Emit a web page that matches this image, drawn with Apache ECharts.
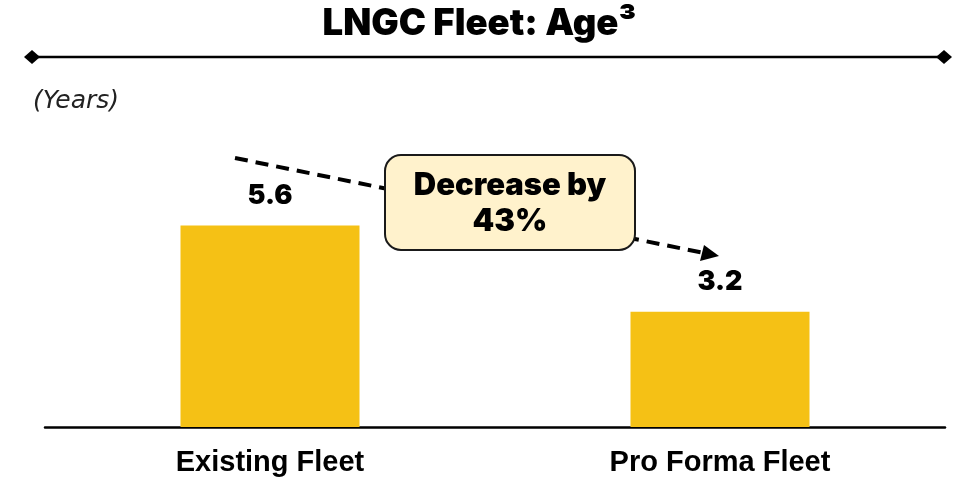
<!DOCTYPE html>
<html>
<head>
<meta charset="utf-8">
<script src="https://cdn.jsdelivr.net/npm/echarts@6/dist/echarts.min.js"></script>
<style>html,body{margin:0;padding:0;background:#fff}#c{width:959px;height:478px}</style>
</head>
<body>
<div id="c"></div>
<script>
var categories = ['Existing Fleet', 'Pro Forma Fleet'];
var ageValues = [5.6, 3.2];
var titleText = 'LNGC Fleet: Age³';
var unitText = '(Years)';
var calloutLines = ['Decrease by', '43%'];

var heavy = 900;
var chart = echarts.init(document.getElementById('c'));
chart.setOption({
  animation: false,
  backgroundColor: '#ffffff',
  title: {
    text: titleText,
    left: 'center',
    top: 1,
    textStyle: { fontFamily: 'Inter', fontWeight: heavy, fontSize: 36.5, color: '#000' }
  },
  grid: { left: 45, right: 14, top: 139, bottom: 51 },
  xAxis: {
    type: 'category',
    data: categories,
    axisLine: { lineStyle: { color: '#000', width: 2.5 } },
    axisTick: { show: false },
    axisLabel: { margin: 21, fontFamily: 'Liberation Sans', fontWeight: 'bold', fontSize: 29, color: '#000' }
  },
  yAxis: {
    type: 'value', min: 0, max: 8, show: false, splitLine: { show: false }
  },
  series: [{
    type: 'bar',
    data: ageValues,
    barWidth: 179,
    itemStyle: { color: '#F5C115' },
    label: {
      show: true, position: 'top', distance: 16,
      fontFamily: 'Inter', fontWeight: heavy, fontSize: 27, color: '#000',
      formatter: function (p) { return p.value.toFixed(1); }
    }
  }],
  graphic: [
    { type: 'line', shape: { x1: 32, y1: 57, x2: 944, y2: 57 }, style: { stroke: '#000', lineWidth: 2.5 } },
    { type: 'polygon', shape: { points: [[24, 57], [32, 50], [40, 57], [32, 64]] }, style: { fill: '#000' } },
    { type: 'polygon', shape: { points: [[936, 57], [944, 50], [952, 57], [944, 64]] }, style: { fill: '#000' } },
    { type: 'text', left: 33, top: 89, style: { text: unitText, fontFamily: 'DejaVu Sans', fontStyle: 'italic', fontSize: 25, fill: '#222' } },
    { type: 'line', shape: { x1: 235, y1: 158, x2: 704, y2: 253 }, style: { stroke: '#000', lineWidth: 4, lineDash: [13, 8] }, z: 5 },
    { type: 'polygon', shape: { points: [[719, 256], [700, 261], [704, 245]] }, style: { fill: '#000' }, z: 5 },
    { type: 'rect', shape: { x: 385, y: 155, width: 250, height: 95, r: 16 }, style: { fill: '#FFF2CC', stroke: '#1a1a1a', lineWidth: 2 }, z: 10 },
    { type: 'text', x: 510, y: 186, z: 11, style: { text: calloutLines[0], fontFamily: 'Inter', fontWeight: heavy, fontSize: 31, fill: '#000', textAlign: 'center', textVerticalAlign: 'middle' } },
    { type: 'text', x: 510, y: 222, z: 11, style: { text: calloutLines[1], fontFamily: 'Inter', fontWeight: heavy, fontSize: 31, fill: '#000', textAlign: 'center', textVerticalAlign: 'middle' } }
  ]
});
</script>
</body>
</html>
